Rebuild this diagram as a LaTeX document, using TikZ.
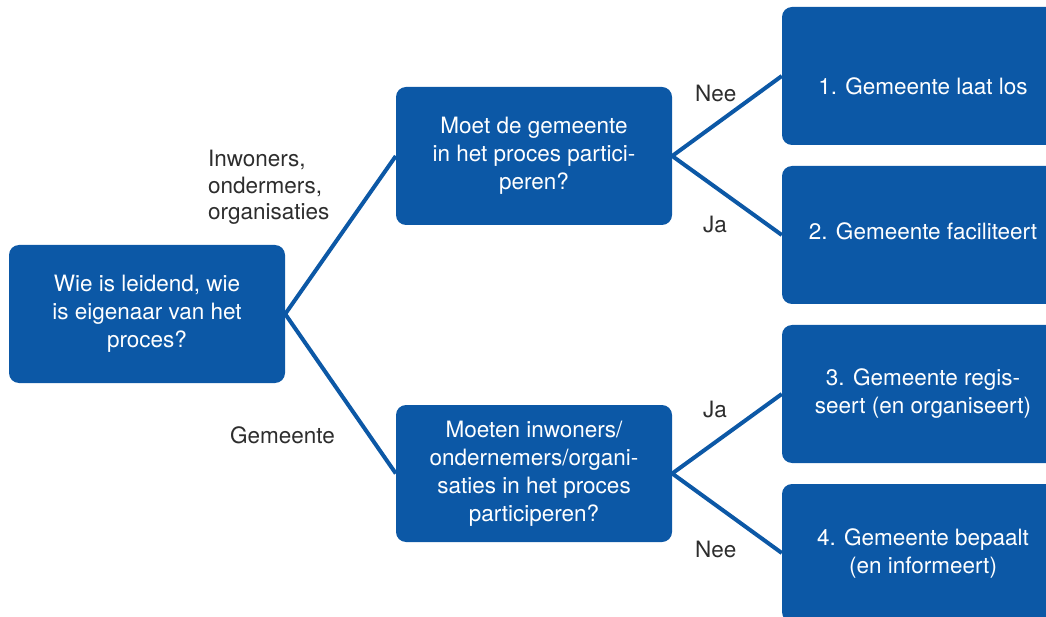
\documentclass[tikz,border=0pt]{standalone}
\usepackage{fontspec}
\setmainfont{TeX Gyre Heros}
\definecolor{boxblue}{RGB}{12,88,166}
\definecolor{labgray}{RGB}{45,45,45}
\newcommand\dfont{\fontsize{22.5}{28}\selectfont}
\newcommand\lfont{\fontsize{22.5}{26.5}\selectfont}
\begin{document}
\begin{tikzpicture}[x=1pt,y=-1pt,
  qbox/.style={fill=boxblue, rounded corners=10pt, minimum width=276pt,
    minimum height=138pt, text=white, align=center, font=\dfont, inner sep=0pt},
  rbox/.style={qbox, minimum width=282pt},
  btext/.style={text=white, font=\dfont, inner sep=0pt},
  conn/.style={draw=boxblue, line width=4pt},
  lab/.style={text=labgray, font=\lfont, inner sep=0pt, align=left}
]
\useasboundingbox (0,0) rectangle (1046,617);
\clip (0,0) rectangle (1046,617);

\node[qbox] (q0) at (147,314) {Wie is leidend, wie\\is eigenaar van het\\proces?};
\node[qbox] (q1) at (534,156) {Moet de gemeente\\in het proces partici-\\peren?};
\node[qbox, minimum height=137pt] (q2) at (534,473.5) {Moeten inwoners/\\ondernemers/organi-\\saties in het proces\\participeren?};

\node[rbox, label={[btext, yshift=-10.5pt]center:1. Gemeente laat los}] (r1) at (923,76) {};
\node[rbox, label={[btext, yshift=3.5pt]center:2. Gemeente faciliteert}] (r2) at (923,235) {};
\node[rbox] (r3) at (923,394) {3. Gemeente regis-\\seert (en organiseert)};
\node[rbox] (r4) at (923,553) {4. Gemeente bepaalt\\(en informeert)};

\draw[conn] (q0.east) -- (q1.west);
\draw[conn] (q0.east) -- (q2.west);
\draw[conn] (q1.east) -- (r1.west);
\draw[conn] (q1.east) -- (r2.west);
\draw[conn] (q2.east) -- (r3.west);
\draw[conn] (q2.east) -- (r4.west);

\node[lab, anchor=base west] (l1) at (208,220) {Inwoners,\\ondermers,\\organisaties};
\node[lab, anchor=base west] (l2) at (230,443) {Gemeente};
\node[lab, anchor=base west] (l3) at (695,102) {Nee};
\node[lab, anchor=base west] (l4) at (703,233) {Ja};
\node[lab, anchor=base west] (l5) at (703,417) {Ja};
\node[lab, anchor=base west] (l6) at (695,557) {Nee};
\end{tikzpicture}
\end{document}
